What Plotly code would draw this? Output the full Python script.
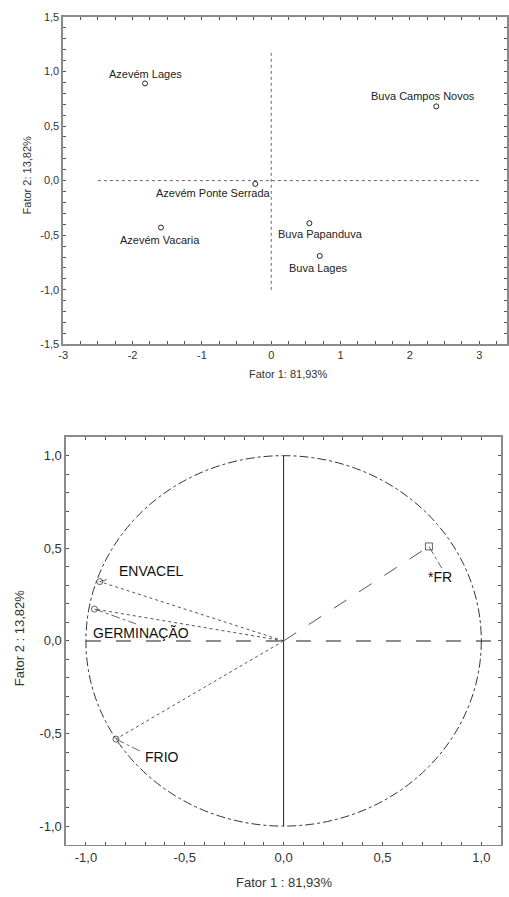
import plotly.graph_objects as go

# ---------- data: top chart (scores) ----------
score_names = ["Azevém Lages", "Buva Campos Novos", "Azevém Ponte Serrada",
               "Azevém Vacaria", "Buva Papanduva", "Buva Lages"]
score_f1 = [-1.82, 2.38, -0.23, -1.59, 0.55, 0.70]
score_f2 = [0.89, 0.68, -0.03, -0.43, -0.39, -0.69]

top_xticks = [-3, -2, -1, 0, 1, 2, 3]
top_xtext = ["-3", "-2", "-1", "0", "1", "2", "3"]
top_yticks = [-1.5, -1.0, -0.5, 0.0, 0.5, 1.0, 1.5]
top_ytext = ["-1,5", "-1,0", "-0,5", "0,0", "0,5", "1,0", "1,5"]

# ---------- data: bottom chart (loadings) ----------
var_names = ["ENVACEL", "GERMINAÇÃO", "FRIO", "*FR"]
var_f1 = [-0.93, -0.957, -0.848, 0.735]
var_f2 = [0.32, 0.172, -0.53, 0.51]
var_symbol = ["circle-open", "circle-open", "circle-open", "square-open"]

bot_ticks = [-1.0, -0.5, 0.0, 0.5, 1.0]
bot_text = ["-1,0", "-0,5", "0,0", "0,5", "1,0"]

FONT = "Liberation Sans, Arial, sans-serif"
W, H = 509, 897

fig = go.Figure()

# top chart reference lines
fig.add_trace(go.Scatter(x=[-2.5, 3.0], y=[0, 0], mode="lines",
                         line=dict(color="#666", width=1, dash="dot"),
                         xaxis="x", yaxis="y", hoverinfo="skip"))
fig.add_trace(go.Scatter(x=[0, 0], y=[-1.0, 1.2], mode="lines",
                         line=dict(color="#666", width=1, dash="dot"),
                         xaxis="x", yaxis="y", hoverinfo="skip"))
fig.add_trace(go.Scatter(x=score_f1, y=score_f2, mode="markers",
                         marker=dict(symbol="circle-open", size=5,
                                     color="#222", line=dict(width=1)),
                         xaxis="x", yaxis="y"))

# label pixel offsets (style)
top_offsets = [(0, 9), (-13, 10), (-42, -9), (-1, -12), (11, -11), (-1, -12)]
for n, x, y, (dx, dy) in zip(score_names, score_f1, score_f2, top_offsets):
    fig.add_annotation(x=x, y=y, xref="x", yref="y", text=n, showarrow=False,
                       xshift=dx, yshift=dy,
                       font=dict(family=FONT, size=11, color="#222"))

# bottom chart
fig.add_shape(type="circle", xref="x2", yref="y2", x0=-1, y0=-1, x1=1, y1=1,
              line=dict(color="#333", width=1, dash="dashdot"))
fig.add_trace(go.Scatter(x=[-1.0, 1.1], y=[0, 0], mode="lines",
                         line=dict(color="#666", width=1.5, dash="longdash"),
                         xaxis="x2", yaxis="y2", hoverinfo="skip"))
fig.add_trace(go.Scatter(x=[0, 0], y=[-1.0, 1.0], mode="lines",
                         line=dict(color="#222", width=1),
                         xaxis="x2", yaxis="y2", hoverinfo="skip"))
for i, (x, y) in enumerate(zip(var_f1, var_f2)):
    dash = "longdash" if var_names[i] == "*FR" else "dot"
    fig.add_trace(go.Scatter(x=[0, x], y=[0, y], mode="lines",
                             line=dict(color="#555", width=1, dash=dash),
                             xaxis="x2", yaxis="y2", hoverinfo="skip"))

# leader lines (pixel lengths -> data units via axis scale)
PX_X, PX_Y = 200.0, 187.5
leader_px = [(7, 2), (42, -15), (24, -12), (13, -22)]
for x, y, (lx, ly) in zip(var_f1, var_f2, leader_px):
    fig.add_trace(go.Scatter(x=[x, x + lx / PX_X], y=[y, y + ly / PX_Y], mode="lines",
                             line=dict(color="#666", width=1, dash="dashdot"),
                             xaxis="x2", yaxis="y2", hoverinfo="skip"))

fig.add_trace(go.Scatter(x=var_f1, y=var_f2, mode="markers",
                         marker=dict(symbol=var_symbol, size=[6, 6, 6, 7],
                                     color="#222", line=dict(width=1)),
                         xaxis="x2", yaxis="y2"))

# label offsets in pixels (style)
bot_offsets = [(52, 11), (47, -24), (46, -18), (11, -31)]
for n, x, y, (dx, dy) in zip(var_names, var_f1, var_f2, bot_offsets):
    fig.add_annotation(x=x, y=y, xref="x2", yref="y2", text=n, showarrow=False,
                       xshift=dx, yshift=dy,
                       font=dict(family=FONT, size=14, color="#111"))

def axis(size, minor_dtick):
    return dict(showgrid=False, zeroline=False, showline=True, mirror="ticks",
                linecolor="#8a8a8a", linewidth=1.8, ticks="inside", ticklen=3,
                tickwidth=1, tickcolor="#555",
                minor=dict(dtick=minor_dtick, ticks="inside", ticklen=3,
                           tickwidth=1, tickcolor="#555"),
                tickfont=dict(family=FONT, size=size, color="#333"))

fig.update_layout(
    width=W, height=H, margin=dict(l=0, r=0, t=0, b=0),
    paper_bgcolor="white", plot_bgcolor="white", showlegend=False,
    xaxis=dict(domain=[59 / W, 1.0], range=[-3, 3.4], anchor="y",
               tickvals=top_xticks, ticktext=top_xtext, **axis(11, 0.25)),
    yaxis=dict(domain=[1 - 343 / H, 1 - 11 / H], range=[-1.5, 1.5], anchor="x",
               tickvals=top_yticks, ticktext=top_ytext, **axis(11, 0.1)),
    xaxis2=dict(domain=[62 / W, 503 / W], range=[-1.1, 1.1], anchor="y2",
                tickvals=bot_ticks, ticktext=bot_text, **axis(13, 0.1)),
    yaxis2=dict(domain=[1 - 850 / H, 1 - 437 / H], range=[-1.1, 1.1], anchor="x2",
                tickvals=bot_ticks, ticktext=bot_text, **axis(13, 0.1)),
)

# axis titles
def title(x, y, text, size, angle=0):
    fig.add_annotation(x=x / W, y=1 - y / H, xref="paper", yref="paper",
                       xanchor="center", yanchor="middle",
                       text=text, showarrow=False, textangle=angle,
                       font=dict(family=FONT, size=size, color="#333"))

title(287, 373, "Fator 1: 81,93%", 11)
title(22, 172, "Fator 2: 13,82%", 11, -90)
title(283, 888, "Fator 1 : 81,93%", 13)
title(15, 640, "Fator 2 : 13,82%", 13, -90)

fig.write_html("out.html",
               config={"displayModeBar": False, "staticPlot": True},
               post_script="document.body.style.margin='0px';"
                           "document.body.style.overflow='hidden';")
